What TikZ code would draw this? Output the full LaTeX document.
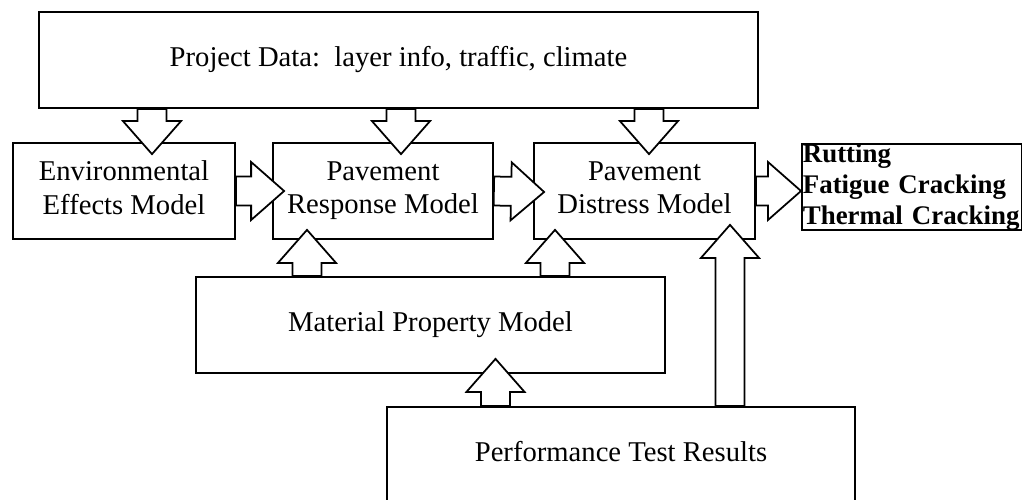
\documentclass[tikz,border=0pt]{standalone}
\usepackage{fontspec}
\setmainfont{Liberation Serif}
\usetikzlibrary{calc,positioning}
\newcommand{\fatarrow}[2]{%
  \coordinate (fa-h) at ($(#2)!0.66cm!(#1)$);
  \draw[fatline] ($(#1)!0.29cm!90:(#2)$) -- ($(fa-h)!0.29cm!90:(#2)$) -- ($(fa-h)!0.58cm!90:(#2)$)
    -- (#2) -- ($(fa-h)!0.58cm!-90:(#2)$) -- ($(fa-h)!0.29cm!-90:(#2)$) -- ($(#1)!0.29cm!-90:(#2)$) -- cycle;}

\begin{document}
\begin{tikzpicture}[
  pavebox/.style={draw,line width=1pt,minimum height=1.92cm,align=center,inner sep=2pt,
    text depth=0.13cm,font=\fontsize{16.3}{19.2}\selectfont},
  outbox/.style={draw,line width=1pt,text width=4.36cm,minimum height=1.70cm,align=left,
    inner xsep=0.02cm,inner ysep=0pt,font=\fontsize{15.3}{17.6}\selectfont\bfseries},
  fatline/.style={draw,line width=1pt,fill=white,line join=miter}
]
  \useasboundingbox (0,0) rectangle (20.44,9.98);
  \node[pavebox,minimum width=14.38cm] (proj) at (7.97,8.78) {Project Data:\ \ layer info, traffic, climate};
  \node[pavebox,minimum width=4.44cm] (env) at (2.48,6.16) {Environmental\\Effects Model};
  \node[pavebox,minimum width=4.40cm] (resp) at (7.66,6.16) {Pavement\\Response Model};
  \node[pavebox,minimum width=4.42cm] (dist) at (12.89,6.16) {Pavement\\Distress Model};
  \node[outbox,anchor=north west] (out) at (16.02,7.12) {Rutting\\Fatigue Cracking\\Thermal Cracking};
  \node[pavebox,minimum width=9.38cm] (mat) at (8.61,3.48) {Material Property Model};
  \node[pavebox,minimum width=9.36cm] (perf) at (12.42,0.88) {Performance Test Results};

  \coordinate (envtop) at ($(env.north)+(0.56,-0.24)$);
  \coordinate (resptop) at ($(resp.north)+(0.36,-0.24)$);
  \coordinate (disttop) at ($(dist.north)+(0.09,-0.24)$);
  \coordinate (respleft) at ($(resp.west)+(0.24,0)$);
  \coordinate (distleft) at ($(dist.west)+(0.22,-0.02)$);
  \coordinate (respbot) at ($(resp.south)+(-1.52,0.2)$);
  \coordinate (distbot) at ($(dist.south)+(-1.79,0.2)$);
  \coordinate (distbotr) at ($(dist.south)+(1.71,0.3)$);
  \coordinate (matbot) at ($(mat.south)+(1.30,0.30)$);

  \fatarrow{proj.south -| envtop}{envtop}
  \fatarrow{proj.south -| resptop}{resptop}
  \fatarrow{proj.south -| disttop}{disttop}
  \fatarrow{env.east}{respleft}
  \fatarrow{resp.east}{distleft}
  \fatarrow{dist.east}{dist.east -| out.west}
  \fatarrow{mat.north -| respbot}{respbot}
  \fatarrow{mat.north -| distbot}{distbot}
  \fatarrow{perf.north -| distbotr}{distbotr}
  \fatarrow{perf.north -| matbot}{matbot}
\end{tikzpicture}
\end{document}
